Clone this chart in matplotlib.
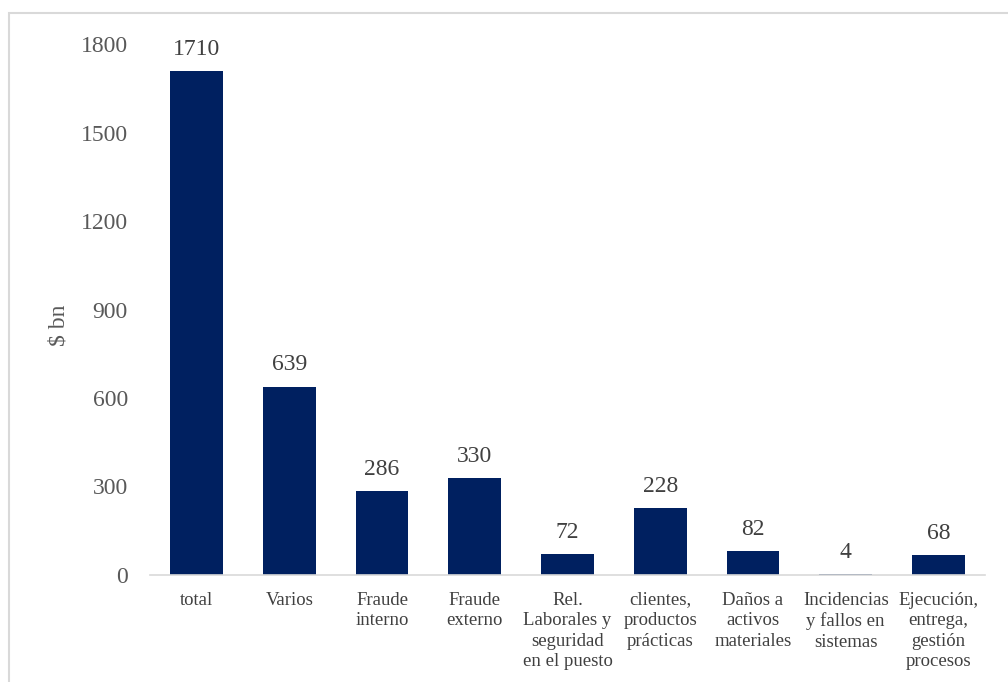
import matplotlib.pyplot as plt
from matplotlib.patches import Rectangle

plt.rcParams['font.family'] = ['Liberation Serif', 'DejaVu Serif']

categories = ['total', 'Varios', 'Fraude\ninterno', 'Fraude\nexterno',
              'Rel.\nLaborales y\nseguridad\nen el puesto',
              'clientes,\nproductos\nprácticas',
              'Daños a\nactivos\nmateriales',
              'Incidencias\ny fallos en\nsistemas',
              'Ejecución,\nentrega,\ngestión\nprocesos']
values = [1710, 639, 286, 330, 72, 228, 82, 4, 68]
yticks = [0, 300, 600, 900, 1200, 1500, 1800]

fig = plt.figure(figsize=(10.08, 6.82), dpi=100)
ax = fig.add_axes([0.149, 0.157, 0.828, 0.778])

# light frame around the chart area
fig.patches.append(Rectangle((9/1008, -0.05), 1.1, 1 - 13/682 + 0.05,
                             transform=fig.transFigure, fill=False,
                             edgecolor='#d9d9d9', linewidth=1.5))

x = range(len(categories))
bars = ax.bar(x, values, width=0.57, color='#002060')

for b, v in zip(bars, values):
    ax.annotate(str(v), (b.get_x() + b.get_width() / 2, v),
                xytext=(0, 8), textcoords='offset points',
                ha='center', va='bottom', fontsize=17, color='#404040')

ax.set_xlim(-0.5, len(categories) - 0.5)
ax.set_ylim(0, 1800)
ax.set_yticks(yticks)
ax.set_xticks(list(x))
ax.set_xticklabels(categories, fontsize=13.5, color='#404040', linespacing=1.27)
ax.tick_params(axis='y', labelsize=17, labelcolor='#595959', length=0, pad=16)
ax.tick_params(axis='x', length=0, pad=12)
ax.set_ylabel('$ bn', fontsize=17, color='#595959')
ax.yaxis.set_label_coords(-0.097, 0.47)

for s in ['top', 'right', 'left']:
    ax.spines[s].set_visible(False)
ax.spines['bottom'].set_color('#d9d9d9')
ax.spines['bottom'].set_linewidth(1.2)

fig.savefig('out.png', dpi=100)
